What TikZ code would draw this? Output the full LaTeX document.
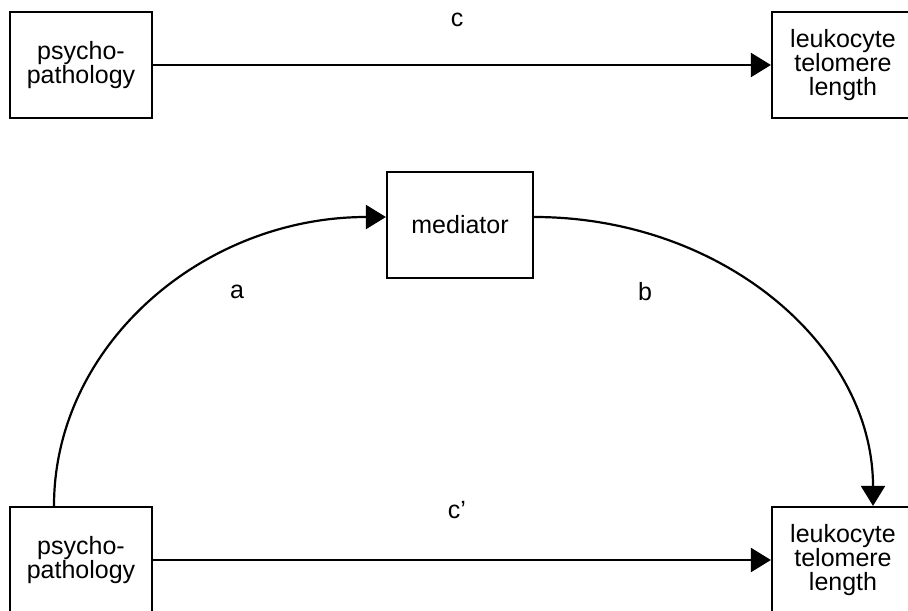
\documentclass[tikz,border=0pt]{standalone}
\usepackage{fontspec}
\setmainfont{Liberation Sans}
\usetikzlibrary{arrows.meta}
\begin{document}
\begin{tikzpicture}[x=0.5pt,y=0.5pt,
        varbox/.style={draw,line width=1.1pt,minimum width=71pt,minimum height=53pt,
            align=center,inner sep=0pt,font=\fontsize{12.5}{12}\selectfont},
        path/.style={line width=1.1pt,-{Triangle[length=10pt,width=12pt]}},
        lbl/.style={font=\fontsize{12.5}{12}\selectfont}]
            \useasboundingbox (0,0) rectangle (908,610);
            \clip (0,0) rectangle (908,610);
            % total effect
            \node[varbox] (psyA) at (81,545) {psycho-\\pathology};
            \node[varbox] (ltlA) at (843,545) {leukocyte\\telomere\\length};
            \draw[path] (psyA.east) -- (ltlA.west);
            \node[lbl] (lblc) at (457,590) {c};
            % mediated effect
            \node[varbox,minimum width=73pt] (med) at (460,385) {mediator};
            \node[varbox] (psyB) at (81,50) {psycho-\\pathology};
            \node[varbox] (ltlB) at (843,50) {leukocyte\\telomere\\length};
            \coordinate (aout) at ([xshift=-13.5pt]psyB.north);
            \coordinate (ain) at ([yshift=4pt]med.west);
            \coordinate (bout) at ([yshift=4pt]med.east);
            \coordinate (bin) at ([xshift=15pt]ltlB.north);
            \draw[path] (aout) .. controls +(0,160) and +(-184,0) .. (ain);
            \draw[path] (bout) .. controls +(188,0) and +(0,160) .. (bin);
            \draw[path] (psyB.east) -- (ltlB.west);
            \node[lbl] (lbla) at (237,318) {a};
            \node[lbl] (lblb) at (645,318) {b};
            \node[lbl] (lblcp) at (457,100) {c’};
        \end{tikzpicture}
\end{document}
